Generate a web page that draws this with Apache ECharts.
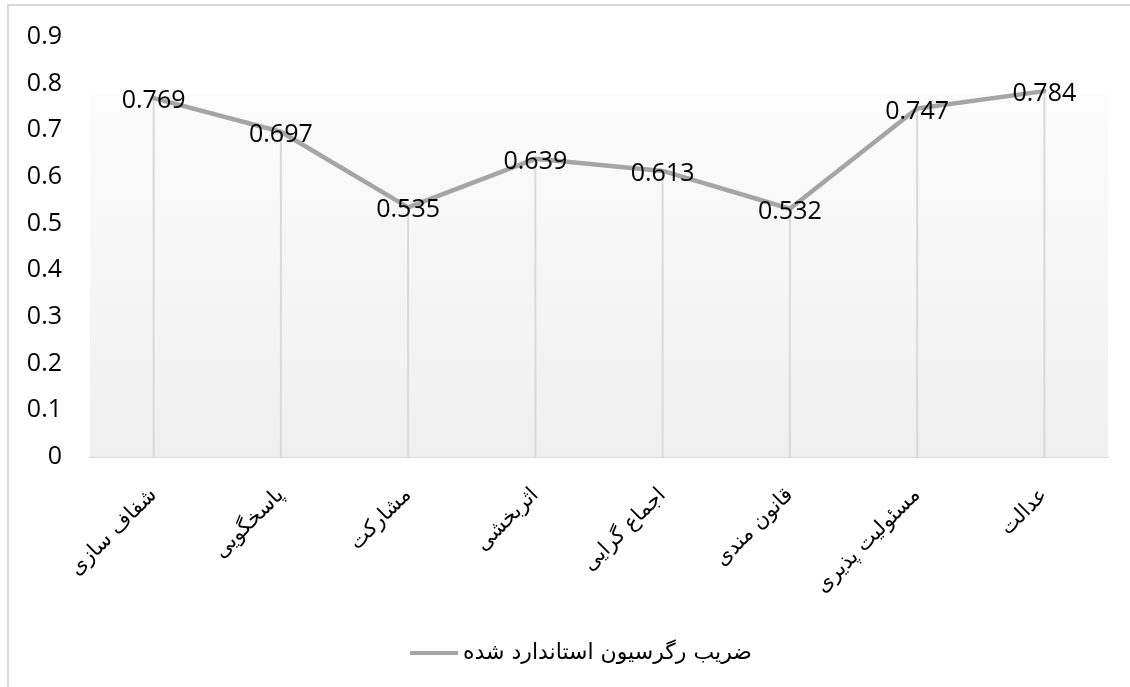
<!DOCTYPE html>
<html><head><meta charset="utf-8">
<script src="https://cdn.jsdelivr.net/npm/echarts@6/dist/echarts.min.js"></script>
<style>html,body{margin:0;padding:0;background:#fff}#c{width:1130px;height:687px}</style>
</head><body><div id="c"></div>
<script>
const categories = ['شفاف سازی','پاسخگویی','مشارکت','اثربخشی','اجماع گرایی','قانون مندی','مسئولیت پذیری','عدالت'];
const values = [0.769, 0.697, 0.535, 0.639, 0.613, 0.532, 0.747, 0.784];
const seriesName = 'ضریب رگرسیون استاندارد شده';
const yTicks = {min: 0, max: 0.9, interval: 0.1};
const shadeTop = 0.778;

const chart = echarts.init(document.getElementById('c'), null, {renderer: 'canvas'});
chart.setOption({
  animation: false,
  backgroundColor: '#fff',
  graphic: [{type: 'rect', shape: {x: 8, y: 5, width: 1200, height: 800}, style: {fill: 'none', stroke: '#d9d9d9', lineWidth: 2}, z: -10}],
  grid: {left: 90, right: 22, top: 37, bottom: 230, containLabel: false},
  legend: {
    data: [seriesName], bottom: 18, left: 405,
    itemWidth: 48, itemHeight: 14, itemGap: 4,
    icon: 'path://M0,6 L48,6 L48,10 L0,10 Z',
    textStyle: {fontSize: 22, color: '#000', fontFamily: 'DejaVu Serif, DejaVu Sans, serif'}
  },
  xAxis: {
    type: 'category', data: categories, boundaryGap: true,
    axisLine: {lineStyle: {color: '#d9d9d9', width: 2}},
    axisTick: {show: false},
    axisLabel: {rotate: 45, margin: 35, fontSize: 21, color: '#000', fontFamily: 'DejaVu Serif, DejaVu Sans, serif', interval: 0}
  },
  yAxis: {
    type: 'value', min: yTicks.min, max: yTicks.max, interval: yTicks.interval,
    axisLine: {show: false}, axisTick: {show: false}, splitLine: {show: false},
    axisLabel: {fontSize: 25, color: '#000', margin: 28, fontFamily: 'Open Sans, Noto Sans, sans-serif',
      formatter: v => (Math.round(v * 10) / 10).toString()}
  },
  series: [
    {
      name: 'drop', type: 'bar', data: values, barWidth: 2, barGap: '-100%',
      itemStyle: {color: '#d9d9d9'}, z: 1, silent: true,
      markArea: {
        silent: true,
        itemStyle: {color: {type: 'linear', x: 0, y: 0, x2: 0, y2: 1, colorStops: [{offset: 0, color: '#fcfcfc'}, {offset: 1, color: '#efefef'}]}},
        data: [[{yAxis: 0}, {yAxis: shadeTop}]]
      }
    },
    {
      name: seriesName, type: 'line', data: values, z: 3,
      symbol: 'circle', symbolSize: 1, showSymbol: true,
      lineStyle: {color: '#a5a5a5', width: 4.5, cap: 'round', join: 'round'},
      itemStyle: {color: '#a5a5a5'},
      label: {show: true, position: 'inside', offset: [0, 3], fontSize: 25, color: '#000',
        fontFamily: 'Open Sans, Noto Sans, sans-serif', formatter: p => p.value.toFixed(3)}
    }
  ]
});
</script></body></html>
